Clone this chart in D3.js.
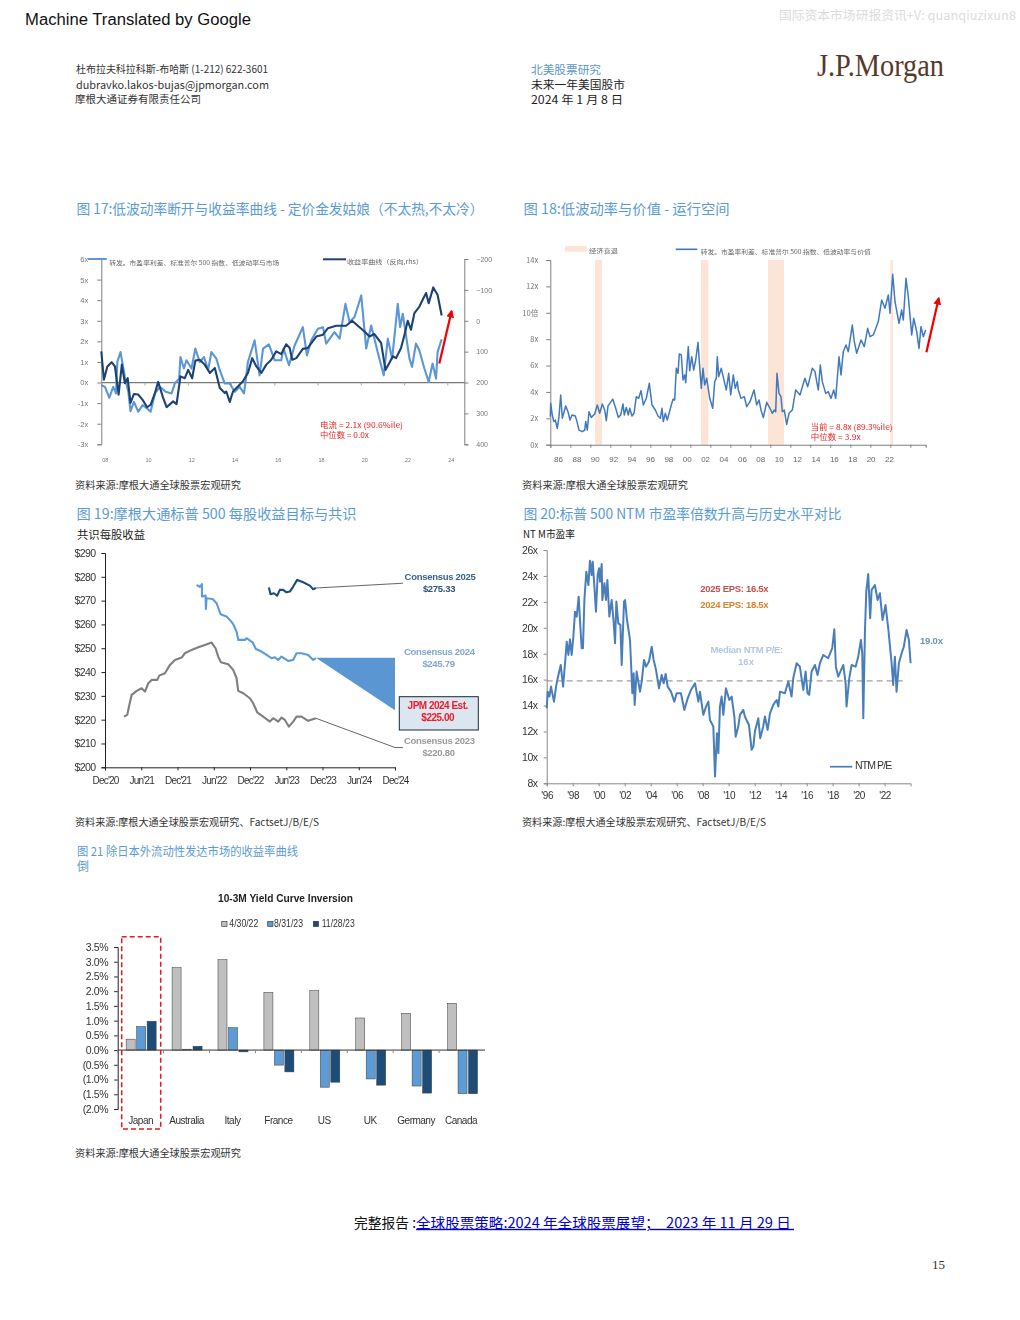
<!DOCTYPE html>
<html><head><meta charset="utf-8">
<script src="https://cdn.jsdelivr.net/npm/d3@7"></script>
<style>html,body{margin:0;padding:0;background:#fff}svg{display:block}</style>
</head><body><div id="c"></div>
<script>
// ---- Figure 17
const f17SpreadYears=[2008,2008.17,2008.37,2008.55,2008.68,2008.74,2008.89,2009.09,2009.25,2009.35,2009.51,2009.71,2009.91,2010.12,2010.28,2010.48,2010.71,2010.98,2011.25,2011.4,2011.6,2011.66,2011.82,2011.94,2012.17,2012.35,2012.55,2012.75,2012.94,2013.09,2013.32,2013.48,2013.71,2013.94,2014.17,2014.4,2014.6,2014.78,2015.09,2015.32,2015.48,2015.75,2016.02,2016.32,2016.43,2016.68,2016.94,2017.32,2017.51,2017.71,2018.02,2018.25,2018.4,2018.78,2019.02,2019.29,2019.48,2019.71,2020.02,2020.25,2020.48,2020.78,2021.06,2021.25,2021.45,2021.71,2021.82,2021.94,2022.09,2022.25,2022.37,2022.55,2022.71,2022.94,2023.14,2023.32,2023.48,2023.55,2023.74];
const f17SpreadValues=[-0.13,-0.21,-0.74,-0.21,-0.53,1.0,1.48,0.27,-0.45,-1.39,-0.94,-1.42,-1.1,-1.26,-1.42,-0.53,-0.21,-0.45,-0.53,-0.05,0.19,1.24,0.68,1.08,0.68,1.65,1.0,1.24,0.6,1.48,1.16,0.6,-0.05,-0.05,-0.45,-0.21,-0.53,1.0,2.05,0.35,1.65,1.85,1.08,1.08,1.65,0.84,1.8,2.69,1.32,2.05,2.61,2.69,1.89,2.45,2.13,3.82,2.94,3.18,4.23,1.65,2.77,1.48,0.35,2.13,1.16,3.82,2.69,3.34,2.29,1.16,0.76,1.89,1.56,0.68,0.03,0.92,0.19,1.48,2.1];
const f17CurveYears=[2008,2008.12,2008.28,2008.48,2008.63,2008.8,2008.95,2009.09,2009.22,2009.35,2009.51,2009.71,2009.91,2010.12,2010.28,2010.48,2010.63,2010.86,2011.02,2011.32,2011.48,2011.66,2011.86,2012.02,2012.2,2012.35,2012.55,2012.78,2013.02,2013.25,2013.48,2013.71,2013.78,2013.94,2014.09,2014.32,2014.55,2014.78,2014.98,2015.17,2015.4,2015.63,2015.86,2016.09,2016.32,2016.55,2016.71,2016.83,2017.02,2017.32,2017.55,2017.94,2018.25,2018.48,2018.86,2019.32,2019.6,2019.86,2020.17,2020.4,2020.63,2020.94,2021.14,2021.32,2021.48,2021.63,2021.86,2022.02,2022.17,2022.32,2022.48,2022.71,2022.86,2023.02,2023.14,2023.35,2023.55,2023.74];
const f17CurveValues=[99,191,148,134,148,239,142,202,186,266,237,239,256,280,272,234,198,250,280,261,270,180,186,159,186,129,126,142,169,153,218,234,229,263,229,213,196,169,121,148,169,142,126,99,108,76,88,126,121,91,88,51,45,24,16,16,0,16,35,51,43,72,159,137,115,121,88,45,0,29,-25,-46,-68,-90,-57,-108,-84,-17];
const f17LeftTicks=[6,5,4,3,2,1,0,-1,-2,-3];
const f17RightTicks=[-200,-100,0,100,200,300,400];
const f17YearTicks=[2008,2010,2012,2014,2016,2018,2020,2022,2024];
const f17Arrow=[[2023.63,0.92],[2024.2,3.47]];
// ---- Figure 18
const f18Years=[1986.13,1986.17,1986.30,1986.47,1986.63,1986.83,1987.00,1987.17,1987.33,1987.67,1987.90,1988.10,1988.30,1988.63,1988.80,1989.00,1989.33,1989.57,1989.67,1989.83,1990.00,1990.23,1990.57,1990.83,1991.07,1991.33,1991.57,1991.73,1991.90,1992.37,1992.67,1992.93,1993.17,1993.40,1993.53,1993.73,1993.93,1994.07,1994.30,1994.50,1994.73,1994.97,1995.20,1995.43,1995.73,1996.03,1996.30,1996.63,1996.90,1997.13,1997.30,1997.43,1997.63,1997.83,1998.23,1998.40,1998.57,1998.73,1998.90,1999.03,1999.23,1999.40,1999.57,1999.67,1999.93,2000.07,2000.27,2000.47,2000.67,2000.90,2001.07,2001.23,2001.40,2001.57,2001.77,2002.07,2002.37,2002.57,2002.73,2002.83,2002.97,2003.23,2003.57,2003.73,2003.97,2004.17,2004.43,2004.63,2004.83,2004.93,2005.20,2005.53,2005.77,2006.10,2006.50,2006.77,2007.00,2007.20,2007.43,2007.77,2008.10,2008.33,2008.53,2008.67,2008.80,2009.00,2009.20,2009.33,2009.53,2009.77,2010.00,2010.33,2010.67,2011.10,2011.37,2011.60,2011.87,2012.33,2012.60,2012.77,2012.93,2013.13,2013.33,2013.67,2013.93,2014.20,2014.47,2014.67,2015.00,2015.20,2015.43,2015.70,2015.93,2016.33,2016.53,2016.77,2017.20,2017.53,2017.87,2018.10,2018.43,2018.93,2019.27,2019.60,2019.93,2020.10,2020.37,2020.60,2021.00,2021.27,2021.43,2021.70,2021.93,2022.27,2022.47,2022.77,2023.00,2023.20,2023.43,2023.67];
const f18Values=[2.12,3.14,2.38,1.75,1.87,1.24,2.13,3.77,2.00,2.93,2.50,1.87,2.25,2.18,1.75,1.11,0.99,1.11,1.75,1.11,2.50,2.07,2.33,3.01,2.38,3.09,2.63,1.82,2.93,3.46,2.76,2.07,2.25,3.09,2.25,2.83,2.25,2.76,2.18,2.38,3.64,3.52,4.10,3.01,3.52,4.65,3.01,2.63,2.18,2.00,2.76,1.75,2.38,1.87,3.01,3.44,3.39,5.79,5.41,6.88,6.80,4.91,5.28,4.70,7.43,5.61,6.67,5.66,6.42,7.74,5.92,4.27,5.79,4.53,5.03,3.52,2.76,4.78,5.03,6.67,5.16,5.79,4.65,4.15,5.41,3.77,5.28,4.27,4.78,4.15,3.51,3.64,2.88,3.26,4.15,3.01,3.39,2.63,2.05,3.21,2.76,2.38,2.63,2.50,5.41,3.89,3.64,2.50,2.63,1.54,2.38,2.63,4.15,3.77,4.48,5.03,4.40,5.79,5.54,4.78,4.15,6.04,4.78,3.89,4.02,3.51,4.15,3.51,6.67,5.28,7.05,7.56,7.05,9.07,7.81,6.93,7.94,7.43,8.82,8.19,8.32,9.33,10.97,10.34,11.35,9.96,12.92,10.84,9.20,10.21,9.45,12.61,11.22,8.32,9.58,8.57,7.30,8.95,8.19,8.70];
const f18RecessionStart=[1990.6,2001.2,2007.9,2020.15];
const f18RecessionEnd=[1991.3,2001.93,2009.5,2020.4];
const f18YTicks=[14,12,10,8,6,4,2,0];
const f18YLabels=['14x','12x','10倍','8x','6x','4x','2x','0x'];
const f18TickYears=[1986.13,1988.13,1990.13,1992.13,1994.13,1996.13,1998.13,2000.13,2002.13,2004.13,2006.13,2008.13,2010.13,2012.13,2014.13,2016.13,2018.13,2020.13,2022.13];
const f18XLabels=['86','88','90','92','94','96','98','00','02','04','06','08','10','12','14','16','18','20','22'];
const f18Arrow=[[2023.74,7.0],[2024.97,11.1]];
// ---- Figure 19
const f19Labels=["Dec'20","Jun'21","Dec'21","Jun'22","Dec'22","Jun'23","Dec'23","Jun'24","Dec'24"];
const f19Ticks=[290,280,270,260,250,240,230,220,210,200];
const f19M23=[3.14,3.69,3.97,4.41,5.24,6.06,6.62,7.17,7.72,8.65,8.99,9.92,10.75,11.58,12.68,13.23,14.33,15.44,16.54,17.64,18.3,18.74,19.18,20.4,21.22,21.78,22.05,22.88,23.98,24.53,25.19,26.18,27.29,27.84,28.67,29.22,29.77,30.43,31.15,31.7,32.52,33.63,34.9];
const f19V23=[221.3,222,225.5,230.4,232.1,233.2,231.8,235.3,236.7,236.7,238.5,239.5,243,245.1,246.1,247.9,249.3,250.4,251.4,252.4,250,246.5,244.1,243.3,240.9,237.4,232.1,231.1,229,226.9,223.1,221.3,219.2,220.6,219.2,220.9,219.9,217.1,219.2,221.3,221.3,219.5,220.6];
const f19M24=[15.16,15.71,16.04,16.05,16.65,16.7,16.81,17.81,18.47,19.13,20.12,20.67,21.22,21.78,22.05,23.15,23.43,24.42,24.97,25.91,26.74,27.56,28.11,28.67,29.22,30.32,31.15,31.7,32.52,33.63,34.45,34.9];
const f19V24=[276.6,275.8,276.9,271.7,272.1,266.5,271,270.7,268.9,264.3,263.3,261.9,260.1,257,253.5,253.5,254.2,252.5,249.7,248.6,247.2,245.8,246.2,245.1,246.5,244.7,245.1,247.9,247.9,247.2,245.1,245.8];
const f19M25=[27.12,27.4,27.95,28.5,28.94,29.49,30.04,30.6,31.15,31.81,32.8,33.9,34.45,34.9];
const f19V25=[275.5,272.7,273.1,272.1,274.5,274.5,273.5,273.8,275.9,278.7,277.7,276.3,274.8,275.3];
const f19Gap=[[34.9,246],[48,246],[48,224]];
// ---- Figure 20
const f20Years=[1996.00,1996.08,1996.21,1996.33,1996.56,1996.72,1996.90,1997.08,1997.26,1997.41,1997.54,1997.67,1997.79,1997.92,1998.05,1998.18,1998.31,1998.46,1998.59,1998.69,1998.79,1998.90,1999.05,1999.21,1999.33,1999.46,1999.54,1999.67,1999.79,1999.92,2000.03,2000.10,2000.23,2000.28,2000.44,2000.56,2000.67,2000.82,2001.00,2001.15,2001.26,2001.36,2001.51,2001.67,2001.77,2001.95,2002.03,2002.18,2002.41,2002.59,2002.69,2002.77,2002.92,2003.05,2003.18,2003.31,2003.49,2003.64,2003.87,2004.08,2004.23,2004.41,2004.64,2004.85,2005.00,2005.15,2005.31,2005.56,2005.82,2006.00,2006.33,2006.59,2006.85,2007.10,2007.41,2007.67,2007.79,2008.05,2008.26,2008.44,2008.56,2008.82,2008.95,2009.10,2009.21,2009.33,2009.46,2009.59,2009.79,2010.05,2010.23,2010.44,2010.54,2010.74,2010.87,2011.13,2011.25,2011.56,2011.77,2011.90,2012.02,2012.28,2012.43,2012.66,2012.79,2013.00,2013.18,2013.43,2013.69,2013.82,2013.95,2014.33,2014.59,2014.84,2014.97,2015.23,2015.48,2015.74,2015.92,2016.07,2016.20,2016.38,2016.64,2016.84,2017.02,2017.28,2017.66,2017.97,2018.13,2018.25,2018.43,2018.82,2019.00,2019.07,2019.28,2019.46,2019.77,2019.97,2020.18,2020.28,2020.36,2020.49,2020.59,2020.74,2020.89,2021.00,2021.25,2021.46,2021.64,2021.84,2022.07,2022.28,2022.54,2022.66,2022.79,2022.92,2023.10,2023.31,2023.48,2023.69,2023.87,2024.00];
const f20Values=[13.79,15.07,14.69,15.46,14.30,15.46,16.36,17.13,15.46,17.26,18.93,17.90,19.11,17.90,19.32,21.24,20.86,22.40,20.09,18.42,18.42,22.14,24.33,23.30,25.18,24.07,25.10,23.17,21.24,24.07,24.59,23.56,24.92,22.14,23.43,22.14,23.69,20.86,22.14,20.47,18.80,22.02,20.34,20.22,17.13,22.02,22.14,20.60,19.06,14.95,16.49,14.05,16.62,15.85,15.07,15.85,17.52,17.00,17.39,18.54,17.52,16.75,15.33,16.36,15.72,16.44,15.46,15.07,14.30,14.95,14.95,13.66,14.56,15.20,15.72,14.30,15.07,13.28,13.92,14.30,12.89,12.38,8.52,11.86,10.32,13.92,14.69,13.28,15.33,14.43,14.69,13.15,11.60,12.38,13.28,13.66,13.15,12.50,10.58,10.83,11.99,13.02,11.48,12.38,13.15,12.12,13.40,14.05,14.43,13.92,15.07,14.95,15.85,14.69,16.10,17.26,17.00,15.20,16.62,14.95,14.82,16.62,17.13,16.36,17.26,17.90,17.65,18.42,19.88,17.00,16.23,17.13,15.72,13.92,16.10,17.13,17.00,17.77,19.06,18.03,13.02,19.83,22.79,24.15,20.73,22.92,23.30,22.14,22.66,20.60,21.76,19.96,17.26,15.59,17.77,15.07,17.26,18.03,18.54,19.83,19.06,17.26];
const f20YTicks=[26,24,22,20,18,16,14,12,10,8];
const f20XTicks=[1996,1998,2000,2002,2004,2006,2008,2010,2012,2014,2016,2018,2020,2022];
const f20XLabels=["'96","'98","'00","'02","'04","'06","'08","'10","'12","'14","'16","'18","'20","'22"];
const f20Median=15.9;
// ---- Figure 21
const f21Countries=['Japan','Australia','Italy','France','US','UK','Germany','Canada'];
const f21Dates=['4/30/22','8/31/23','11/28/23'];
const f21Apr22=[0.37,2.8,3.07,1.96,2.02,1.09,1.25,1.59];
const f21Aug23=[0.8,0.03,0.76,-0.51,-1.26,-0.98,-1.22,-1.48];
const f21Nov23=[0.98,0.13,-0.06,-0.74,-1.09,-1.19,-1.46,-1.48];
const f21Ticks=[3.5,3,2.5,2,1.5,1,0.5,0,-0.5,-1,-1.5,-2];
const f21TickLabels=['3.5%','3.0%','2.5%','2.0%','1.5%','1.0%','0.5%','0.0%','(0.5%','(1.0%','(1.5%','(2.0%'];

const CJK='"Noto Sans CJK SC","Noto Sans",sans-serif', AR='"Liberation Sans",Arial,sans-serif';
const svg=d3.select('#c').append('svg').attr('width',1020).attr('height',1320).attr('viewBox','0 0 1020 1320');
const defs=svg.append('defs');
defs.append('filter').attr('id','soft').attr('x','-5%').attr('y','-5%').attr('width','110%').attr('height','110%')
  .append('feGaussianBlur').attr('stdDeviation',0.42);
defs.append('marker').attr('id','ah').attr('viewBox','0 0 10 10').attr('refX',8).attr('refY',5)
  .attr('markerWidth',3.6).attr('markerHeight',3.6).attr('orient','auto')
  .append('path').attr('d','M0,0L10,5L0,10Z').attr('fill','#f00000');
function T(g,x,y,s,o={}){const t=g.append('text').attr('x',x).attr('y',y+2).text(s)
  .attr('dominant-baseline','middle').attr('font-family',o.f||CJK).attr('font-size',o.s||10)
  .attr('fill',o.c||'#222').attr('text-anchor',o.a||'start').attr('font-weight',o.w||null).style('white-space','pre');
  if(o.ls!==undefined)t.attr('letter-spacing',o.ls);
  if(o.len){t.attr('textLength',o.len).attr('lengthAdjust','spacingAndGlyphs');}
  if(o.u)t.attr('text-decoration','underline');return t;}
function styleAxis(g,c){g.selectAll('path.domain').attr('stroke',c);g.selectAll('line').attr('stroke',c);}
const lineGen=(x,y)=>d3.line().x(d=>x(d[0])).y(d=>y(d[1]));
const zip=(a,b)=>a.map((v,i)=>[v,b[i]]);

// --- page text
T(svg,25,18.5,'Machine Translated by Google',{f:AR,s:16,c:'#111',len:226});
T(svg,779,15,'国际资本市场研报资讯+V: quanqiuzixun8',{s:12.5,c:'#dcdcdc',len:237});
T(svg,76,68,'杜布拉夫科拉科斯-布哈斯 (1-212) 622-3601',{s:10.5,len:192,c:'#333'});
T(svg,76,84,'dubravko.lakos-bujas@jpmorgan.com',{s:11,len:193,c:'#333'});
T(svg,75,98.5,'摩根大通证券有限责任公司',{s:10.5,len:126,c:'#333'});
T(svg,531,68.5,'北美股票研究',{s:11.5,c:'#5b97c9',len:70});
T(svg,531,83.5,'未来一年美国股市',{s:11.5,len:94,c:'#222'});
T(svg,531,98.5,'2024 年 1 月 8 日',{s:11.5,len:92,c:'#222'});
T(svg,817,67,'J.P.Morgan',{f:'"Liberation Serif",serif',s:31,c:'#57392c',len:127});
const titleC='#5b9bd5';
T(svg,76.5,208,'图 17:低波动率断开与收益率曲线 - 定价金发姑娘（不太热,不太冷）',{s:14,c:titleC,len:407});
T(svg,523.5,208,'图 18:低波动率与价值 - 运行空间',{s:14,c:titleC,len:206});
T(svg,76.5,513,'图 19:摩根大通标普 500 每股收益目标与共识',{s:14,c:titleC,len:280});
T(svg,523.5,513,'图 20:标普 500 NTM 市盈率倍数升高与历史水平对比',{s:14,c:titleC,len:318});
T(svg,77,851,'图 21 除日本外流动性发达市场的收益率曲线',{s:12,c:titleC,len:221});
T(svg,77,866,'倒',{s:12,c:titleC});
T(svg,75,484,'资料来源:摩根大通全球股票宏观研究',{s:10,len:166,c:'#333'});
T(svg,522,484,'资料来源:摩根大通全球股票宏观研究',{s:10,len:166,c:'#333'});
T(svg,75,821,'资料来源:摩根大通全球股票宏观研究、FactsetJ/B/E/S',{s:10,len:244,c:'#333'});
T(svg,522,821,'资料来源:摩根大通全球股票宏观研究、FactsetJ/B/E/S',{s:10,len:244,c:'#333'});
T(svg,75,1152,'资料来源:摩根大通全球股票宏观研究',{s:10,len:166,c:'#333'});
T(svg,77,534,'共识每股收益',{s:11.5,len:68,c:'#222'});
T(svg,523,533,'NT M市盈率',{s:10,len:52,c:'#222'});
T(svg,354,1222,'完整报告 :',{s:14,len:62,c:'#111'});
T(svg,416,1222,'全球股票策略:2024 年全球股票展望；  2023 年 11 月 29 日 ',{s:14,c:'#0000d0',len:378,u:true});
T(svg,932,1264,'15',{f:'"Liberation Serif",serif',s:13,c:'#333'});

// --- Figure 17
(function(){
 const g=svg.append('g').attr('filter','url(#soft)');
 const x=d3.scaleLinear().domain([2008,2024]).range([101.3,447.3]);
 const y=d3.scaleLinear().domain([-3,6]).range([444.3,259]);
 const yr=d3.scaleLinear().domain([400,-200]).range([444.3,259]);
 const c='#808080';
 const la=g.append('g').attr('transform','translate(101.3,0)').call(d3.axisLeft(y).tickValues(f17LeftTicks).tickSize(4).tickPadding(9).tickFormat(d=>d+'x'));
 styleAxis(la,c);la.selectAll('text').attr('font-size',7.6).attr('fill','#777').attr('font-family',AR);
 const ra=g.append('g').attr('transform','translate(464.3,0)').call(d3.axisRight(yr).tickValues(f17RightTicks).tickSize(4).tickPadding(8));
 styleAxis(ra,c);ra.selectAll('text').attr('font-size',7).attr('fill','#777').attr('font-family',AR);
 const zero=g.append('g').attr('transform','translate(0,'+y(0)+')').call(d3.axisBottom(x).tickValues(f17YearTicks).tickSize(3).tickFormat(''));
 zero.select('path.domain').attr('stroke','#777').attr('d','M101.3,0H464.3').attr('stroke-width',1.2);zero.selectAll('line').attr('stroke','#aaa');
 g.append('path').attr('fill','none').attr('stroke','#5b96d6').attr('stroke-width',2.1).attr('stroke-linejoin','round').attr('d',lineGen(x,y)(zip(f17SpreadYears,f17SpreadValues)));
 g.append('path').attr('fill','none').attr('stroke','#1c4273').attr('stroke-width',2.1).attr('stroke-linejoin','round').attr('d',lineGen(x,yr)(zip(f17CurveYears,f17CurveValues)));
 g.append('path').attr('fill','none').attr('stroke','#f00000').attr('stroke-width',2.2).attr('marker-end','url(#ah)').attr('d',lineGen(x,y)(f17Arrow));
 const xl=g.append('g').attr('transform','translate(3.4,456)').call(d3.axisBottom(x).tickValues(f17YearTicks).tickSize(0).tickPadding(2).tickFormat(d=>String(d).slice(2)));
 xl.select('path.domain').remove();xl.selectAll('text').attr('font-size',5.5).attr('fill','#777').attr('font-family',AR);
 g.append('line').attr('x1',88).attr('x2',106.7).attr('y1',259).attr('y2',259).attr('stroke','#5b96d6').attr('stroke-width',2);
 T(g,109.3,261,'转发。市盈率利差、标准普尔 500 指数、低波动率与市场',{s:6,len:170,c:'#666'});
 g.append('line').attr('x1',323).attr('x2',346).attr('y1',259.3).attr('y2',259.3).attr('stroke','#1c4273').attr('stroke-width',2);
 T(g,347,260.5,'收益率曲线（反向,rhs）',{s:6,len:76,c:'#666'});
 T(g,320,423.5,'电流 = 2.1x (90.6%ile)',{s:8,c:'#f02020',len:83});
 T(g,320,434.2,'中位数 = 0.0x',{s:8,c:'#f02020',len:49});
})();

// --- Figure 18
(function(){
 const g=svg.append('g').attr('filter','url(#soft)');
 const x=d3.scaleLinear().domain([1986.13,2023.67]).range([550.3,925.7]);
 const y=d3.scaleLinear().domain([0,14]).range([444.7,260]);
 f18RecessionStart.forEach((s,i)=>g.append('rect').attr('x',x(s)).attr('width',x(f18RecessionEnd[i])-x(s)).attr('y',y(14)).attr('height',y(0)-y(14)).attr('fill','#fce4d6'));
 const c='#808080';
 const la=g.append('g').attr('transform','translate(550.3,0)').call(d3.axisLeft(y).tickValues(f18YTicks).tickSize(4).tickPadding(8).tickFormat((d,i)=>f18YLabels[i]));
 styleAxis(la,c);la.selectAll('text').attr('font-size',7.6).attr('fill','#777').attr('font-family',CJK);
 const xa=g.append('g').attr('transform','translate(0,444.7)').call(d3.axisBottom(x).tickValues(f18TickYears).tickSize(3).tickFormat(''));
 styleAxis(xa,c);xa.select('path.domain').attr('stroke-width',1.1);
 const lx=d3.scalePoint().domain(f18XLabels).range([558,889]);
 const xl=g.append('g').attr('transform','translate(0,453)').call(d3.axisBottom(lx).tickSize(0).tickPadding(3));
 xl.select('path.domain').remove();xl.selectAll('text').attr('font-size',8).attr('fill','#666').attr('font-family',AR);
 g.append('path').attr('fill','none').attr('stroke','#4179bd').attr('stroke-width',1.5).attr('stroke-linejoin','round').attr('d',lineGen(x,y)(zip(f18Years,f18Values)));
 g.append('path').attr('fill','none').attr('stroke','#f00000').attr('stroke-width',2.2).attr('marker-end','url(#ah)').attr('d',lineGen(x,y)(f18Arrow));
 g.append('rect').attr('x',565).attr('y',246).attr('width',21.7).attr('height',5.7).attr('fill','#fce4d6');
 T(g,589,249,'经济衰退',{s:6,len:29,c:'#666'});
 g.append('line').attr('x1',675.7).attr('x2',697.3).attr('y1',249.3).attr('y2',249.3).attr('stroke','#4179bd').attr('stroke-width',1.6);
 T(g,700.7,250.5,'转发。市盈率利差、标准普尔 500 指数、低波动率与价值',{s:6,len:170,c:'#666'});
 T(g,810.7,426,'当前 = 8.8x (89.3%ile)',{s:8,c:'#f02020',len:82});
 T(g,810.7,436,'中位数 = 3.9x',{s:8,c:'#f02020',len:50});
})();

// --- Figure 19
(function(){
 const g=svg.append('g').attr('filter','url(#soft)');
 const x=d3.scaleLinear().domain([0,48]).range([105,395]);
 const y=d3.scaleLinear().domain([200,290]).range([767.3,553]);
 const la=g.append('g').attr('transform','translate(105,0)').call(d3.axisLeft(y).tickValues(f19Ticks).tickSize(3.5).tickPadding(6).tickFormat(d=>'$'+d));
 styleAxis(la,'#222');la.selectAll('text').attr('font-size',10.5).attr('letter-spacing',-0.6).attr('fill','#333').attr('font-family',AR);
 const xa=g.append('g').attr('transform','translate(0,767.3)').call(d3.axisBottom(x).tickValues(d3.range(0,49,6)).tickSize(3).tickPadding(6.5).tickFormat((d,i)=>f19Labels[i]));
 styleAxis(xa,'#222');xa.selectAll('text').attr('font-size',10).attr('letter-spacing',-0.8).attr('fill','#333').attr('font-family',AR);
 const leader=(a,b)=>g.append('path').attr('fill','none').attr('stroke','#222').attr('stroke-width',0.7).attr('d',lineGen(x,y)([a,b]));
 leader([34.9,275.3],[49.3,277.3]);
 leader([34.9,220.6],[48,208.3]);leader([48,208.3],[49.3,208.3]);
 g.append('path').attr('fill','#5a96d2').attr('d',lineGen(x,y)(f19Gap)+'Z');
 g.append('path').attr('fill','none').attr('stroke','#7f7f7f').attr('stroke-width',2.1).attr('stroke-linejoin','round').attr('d',lineGen(x,y)(zip(f19M23,f19V23)));
 g.append('path').attr('fill','none').attr('stroke','#5b9bd5').attr('stroke-width',2.1).attr('stroke-linejoin','round').attr('d',lineGen(x,y)(zip(f19M24,f19V24)));
 g.append('path').attr('fill','none').attr('stroke','#1f4e79').attr('stroke-width',2.1).attr('stroke-linejoin','round').attr('d',lineGen(x,y)(zip(f19M25,f19V25)));
 g.append('rect').attr('x',399.3).attr('y',696.7).attr('width',79).attr('height',33.3).attr('fill','#dce6f1').attr('stroke','#1a2a3a').attr('stroke-width',1);
 T(g,437.7,704.7,'JPM 2024 Est.',{f:AR,s:10,w:'bold',c:'#ee1c25',a:'middle',ls:-0.5});
 T(g,437.7,716.3,'$225.00',{f:AR,s:10,w:'bold',c:'#ee1c25',a:'middle',ls:-0.5});
 const lab=(cx,cy,s,col)=>T(g,cx,cy-2,s,{f:AR,s:9.5,w:'bold',c:col,a:'middle',ls:-0.3});
 lab(440,577.3,'Consensus 2025','#3b6489');lab(439,589.3,'$275.33','#2c5278');
 lab(439.3,652,'Consensus 2024','#7fa8d0');lab(438.5,664,'$245.79','#7fa8d0');
 lab(439.3,741.7,'Consensus 2023','#9a9a9a');lab(438.5,753.7,'$220.80','#9a9a9a');
})();

// --- Figure 20
(function(){
 const g=svg.append('g').attr('filter','url(#soft)');
 const x=d3.scaleLinear().domain([1996,2024]).range([546.7,910.6]);
 const y=d3.scaleLinear().domain([8,26]).range([783.3,550]);
 const la=g.append('g').attr('transform','translate(546.7,0)').call(d3.axisLeft(y).tickValues(f20YTicks).tickSize(3).tickPadding(6).tickFormat(d=>d+'x'));
 styleAxis(la,'#888');la.selectAll('text').attr('font-size',10.5).attr('letter-spacing',-0.4).attr('fill','#333').attr('font-family',AR);
 const xa=g.append('g').attr('transform','translate(0,783.3)').call(d3.axisBottom(x).tickValues(f20XTicks).tickSize(3).tickPadding(6).tickFormat((d,i)=>f20XLabels[i]));
 styleAxis(xa,'#888');xa.selectAll('text').attr('font-size',10).attr('letter-spacing',-0.4).attr('fill','#333').attr('font-family',AR);
 g.append('line').attr('x1',x(1996)).attr('x2',x(2023.5)).attr('y1',y(f20Median)).attr('y2',y(f20Median)).attr('stroke','#888').attr('stroke-width',1).attr('stroke-dasharray','6 4');
 g.append('path').attr('fill','none').attr('stroke','#4a7ebb').attr('stroke-width',2).attr('stroke-linejoin','round').attr('d',lineGen(x,y)(zip(f20Years,f20Values)));
 T(g,734.3,587.3,'2025 EPS: 16.5x',{f:AR,s:9.5,w:'bold',c:'#c0504d',a:'middle',ls:-0.3});
 T(g,734.3,603,'2024 EPS: 18.5x',{f:AR,s:9.5,w:'bold',c:'#d9822b',a:'middle',ls:-0.3});
 T(g,746.7,648,'Median NTM P/E:',{f:AR,s:9.5,w:'bold',c:'#b4c7e0',a:'middle',ls:-0.3});
 T(g,746,660.3,'16x',{f:AR,s:9.5,w:'bold',c:'#b4c7e0',a:'middle'});
 T(g,920,639.7,'19.0x',{f:AR,s:9.5,w:'bold',c:'#6f93bd',ls:-0.2});
 g.append('line').attr('x1',830).attr('x2',852.3).attr('y1',766.7).attr('y2',766.7).attr('stroke','#4a7ebb').attr('stroke-width',1.7);
 T(g,855,764.7,'NTM P/E',{f:AR,s:10.5,c:'#333',ls:-0.9});
})();

// --- Figure 21
(function(){
 const g=svg.append('g').attr('filter','url(#soft)');
 const y=d3.scaleLinear().domain([-2,3.5]).range([1109,947]);
 const x0=d3.scaleBand().domain(f21Countries).range([117.7,485]);
 const fills=['#bfbfbf','#5b9bd5','#1f4e79'];
 const series=[f21Apr22,f21Aug23,f21Nov23];
 const x1=d3.scaleBand().domain(d3.range(3)).range([-15,15]).paddingInner(0.14);
 const la=g.append('g').attr('transform','translate(117.7,0)').call(d3.axisLeft(y).tickValues(f21Ticks).tickSize(3.5).tickPadding(6).tickFormat((d,i)=>f21TickLabels[i]));
 styleAxis(la,'#222');la.selectAll('text').attr('font-size',10.5).attr('letter-spacing',-0.4).attr('fill','#333').attr('font-family',AR);
 series.forEach((vals,s)=>{
  g.selectAll(null).data(vals).join('rect')
   .attr('x',(d,i)=>x0(f21Countries[i])+x0.bandwidth()/2+x1(s)+0.5)
   .attr('width',x1.bandwidth()).attr('y',d=>y(Math.max(0,d))).attr('height',d=>Math.abs(y(d)-y(0)))
   .attr('fill',fills[s]).attr('stroke','#3a3a3a').attr('stroke-width',0.5);
 });
 const xa=g.append('g').attr('transform','translate(0,'+y(0)+')').call(d3.axisBottom(x0).tickSize(0).tickFormat(''));
 xa.select('path.domain').attr('stroke','#333').attr('d','M117.7,0H485');
 g.selectAll(null).data(f21Countries).join('line').attr('x1',d=>x0(d)).attr('x2',d=>x0(d)).attr('y1',y(0)).attr('y2',y(0)+3).attr('stroke','#888');
 f21Countries.forEach(d=>T(g,x0(d)+x0.bandwidth()/2+(d==='Canada'?-1:0),1119.7,d,{f:AR,s:10,c:'#333',a:'middle',ls:-0.5}));
 g.append('rect').attr('x',121.7).attr('y',936.7).attr('width',39).attr('height',192.3).attr('fill','none').attr('stroke','#e01b24').attr('stroke-width',1.5).attr('stroke-dasharray','5 3');
 T(g,218,897.5,'10-3M Yield Curve Inversion',{f:AR,s:10.5,w:'bold',c:'#222',len:135});
 const lx=[221.7,267.7,313.3], tx=[229.3,274,321.7], tw=[29,29,33];
 f21Dates.forEach((d,i)=>{g.append('rect').attr('x',lx[i]).attr('y',921.3).attr('width',5.3).attr('height',5.3).attr('fill',fills[i]).attr('stroke','#333').attr('stroke-width',0.6);
  T(g,tx[i],922,d,{f:AR,s:10.5,c:'#333',len:tw[i]});});
})();
</script></body></html>
